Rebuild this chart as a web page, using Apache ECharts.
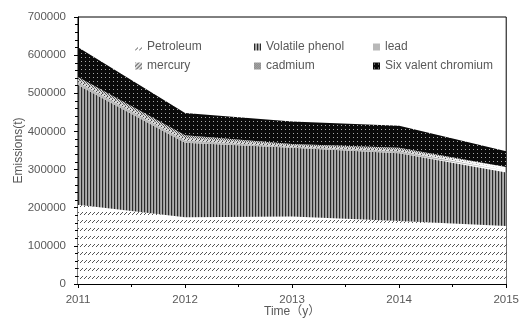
<!DOCTYPE html>
<html>
<head>
<meta charset="utf-8">
<script src="https://cdn.jsdelivr.net/npm/echarts@6/dist/echarts.min.js"></script>
<style>
    html, body { margin: 0; padding: 0; background: #fff; }
    #chart1 { width: 522px; height: 324px; }
</style>
</head>
<body>
<div id="chart1"></div>
<script>
var years = ['2011', '2012', '2013', '2014', '2015']
var seriesNames = ['Petroleum', 'Volatile phenol', 'lead', 'mercury', 'cadmium', 'Six valent chromium']
var petroleum = [208000, 175000, 177000, 165000, 152000]
var volatilePhenol = [314000, 195000, 180000, 178000, 140000]
var lead = [7000, 6000, 3000, 5000, 5000]
var mercury = [7000, 7000, 4000, 4000, 5000]
var cadmium = [7000, 7000, 3000, 5000, 5000]
var chromium = [78000, 58000, 59000, 58000, 41000]
var yTicks = [0, 100000, 200000, 300000, 400000, 500000, 600000, 700000]

// 填充图案
function makePattern (w, h, bg, dots) {
    var c = document.createElement('canvas')
    c.width = w
    c.height = h
    var ctx = c.getContext('2d')
    ctx.fillStyle = bg
    ctx.fillRect(0, 0, w, h)
    dots.forEach(function (d) {
        ctx.fillStyle = d[2]
        ctx.fillRect(d[0], d[1], 1, 1)
    })
    return { image: c, repeat: 'repeat' }
}

var patterns = [
    makePattern(4, 8, '#ffffff', [[0, 6, '#555'], [1, 5, '#555'], [2, 4, '#555']]),
    makePattern(3, 2, '#9a9a9a', [[0, 0, '#2a2a2a'], [0, 1, '#2a2a2a'], [2, 0, '#b0b0b0'], [2, 1, '#b0b0b0']]),
    makePattern(2, 2, '#b8b8b8', []),
    makePattern(4, 4, '#d8d8d8', [[0, 3, '#444'], [1, 2, '#444'], [2, 1, '#444'], [3, 0, '#444']]),
    makePattern(2, 2, '#dddddd', [[0, 0, '#555'], [1, 1, '#555']]),
    makePattern(4, 4, '#0a0a0a', [[1, 1, '#a8a8a8']])
]

var dataList = [petroleum, volatilePhenol, lead, mercury, cadmium, chromium]

function _initChart () {
    var myChart = echarts.init(document.getElementById('chart1'))
    var textColor = '#595959'
    var font = 'Liberation Sans, Noto Sans CJK SC, sans-serif'
    var series = seriesNames.map(function (name, i) {
        return {
            name: name,
            type: 'line',
            stack: 'total',
            symbol: 'none',
            lineStyle: { width: 0, color: '#888' },
            areaStyle: { color: patterns[i], opacity: 1 },
            itemStyle: { color: patterns[i] },
            data: dataList[i]
        }
    })
    var option = {
        animation: false,
        grid: {
            left: 78,
            right: 11,
            top: 17,
            bottom: 40,
            show: true,
            borderColor: '#000',
            borderWidth: 1
        },
        legend: {
            left: 130,
            top: 36,
            width: 362,
            itemWidth: 7,
            itemHeight: 7,
            itemGap: 7,
            icon: 'rect',
            textStyle: {
                color: textColor,
                fontFamily: font,
                fontSize: 12,
                width: 100,
                lineHeight: 12
            },
            data: seriesNames
        },
        xAxis: [{
            type: 'category',
            boundaryGap: false,
            data: years,
            name: 'Time（y）',
            nameLocation: 'middle',
            nameGap: 22,
            nameMoveOverlap: false,
            nameTextStyle: { color: textColor, fontFamily: font, fontSize: 12 },
            axisLine: { lineStyle: { color: '#000' } },
            axisTick: { show: true, length: 4, lineStyle: { color: '#000' } },
            splitLine: { show: false },
            axisLabel: {
                color: textColor,
                fontFamily: font,
                fontSize: 11.5,
                margin: 10
            }
        }, {
            // 只用来画中间的小刻度
            type: 'value',
            position: 'bottom',
            min: 0,
            max: years.length - 1,
            interval: 0.5,
            axisLine: { show: false },
            axisTick: { show: true, length: 3, lineStyle: { color: '#000' } },
            axisLabel: { show: false },
            splitLine: { show: false }
        }],
        yAxis: {
            type: 'value',
            min: yTicks[0],
            max: yTicks[yTicks.length - 1],
            interval: 100000,
            name: 'Emissions(t)',
            nameLocation: 'middle',
            nameGap: 53,
            nameMoveOverlap: false,
            nameTextStyle: { color: textColor, fontFamily: font, fontSize: 12 },
            axisLine: { show: true, lineStyle: { color: '#000' } },
            axisTick: { show: true, length: 4, lineStyle: { color: '#000' } },
            minorTick: { show: true, splitNumber: 5, length: 3, lineStyle: { color: '#000' } },
            splitLine: { show: false },
            axisLabel: {
                color: textColor,
                fontFamily: font,
                fontSize: 11.5,
                margin: 12,
                formatter: function (v) { return String(v) }
            }
        },
        series: series
    }
    myChart.setOption(option)
    window.addEventListener('resize', function () {
        myChart.resize()
    })
}

_initChart()
</script>
</body>
</html>
